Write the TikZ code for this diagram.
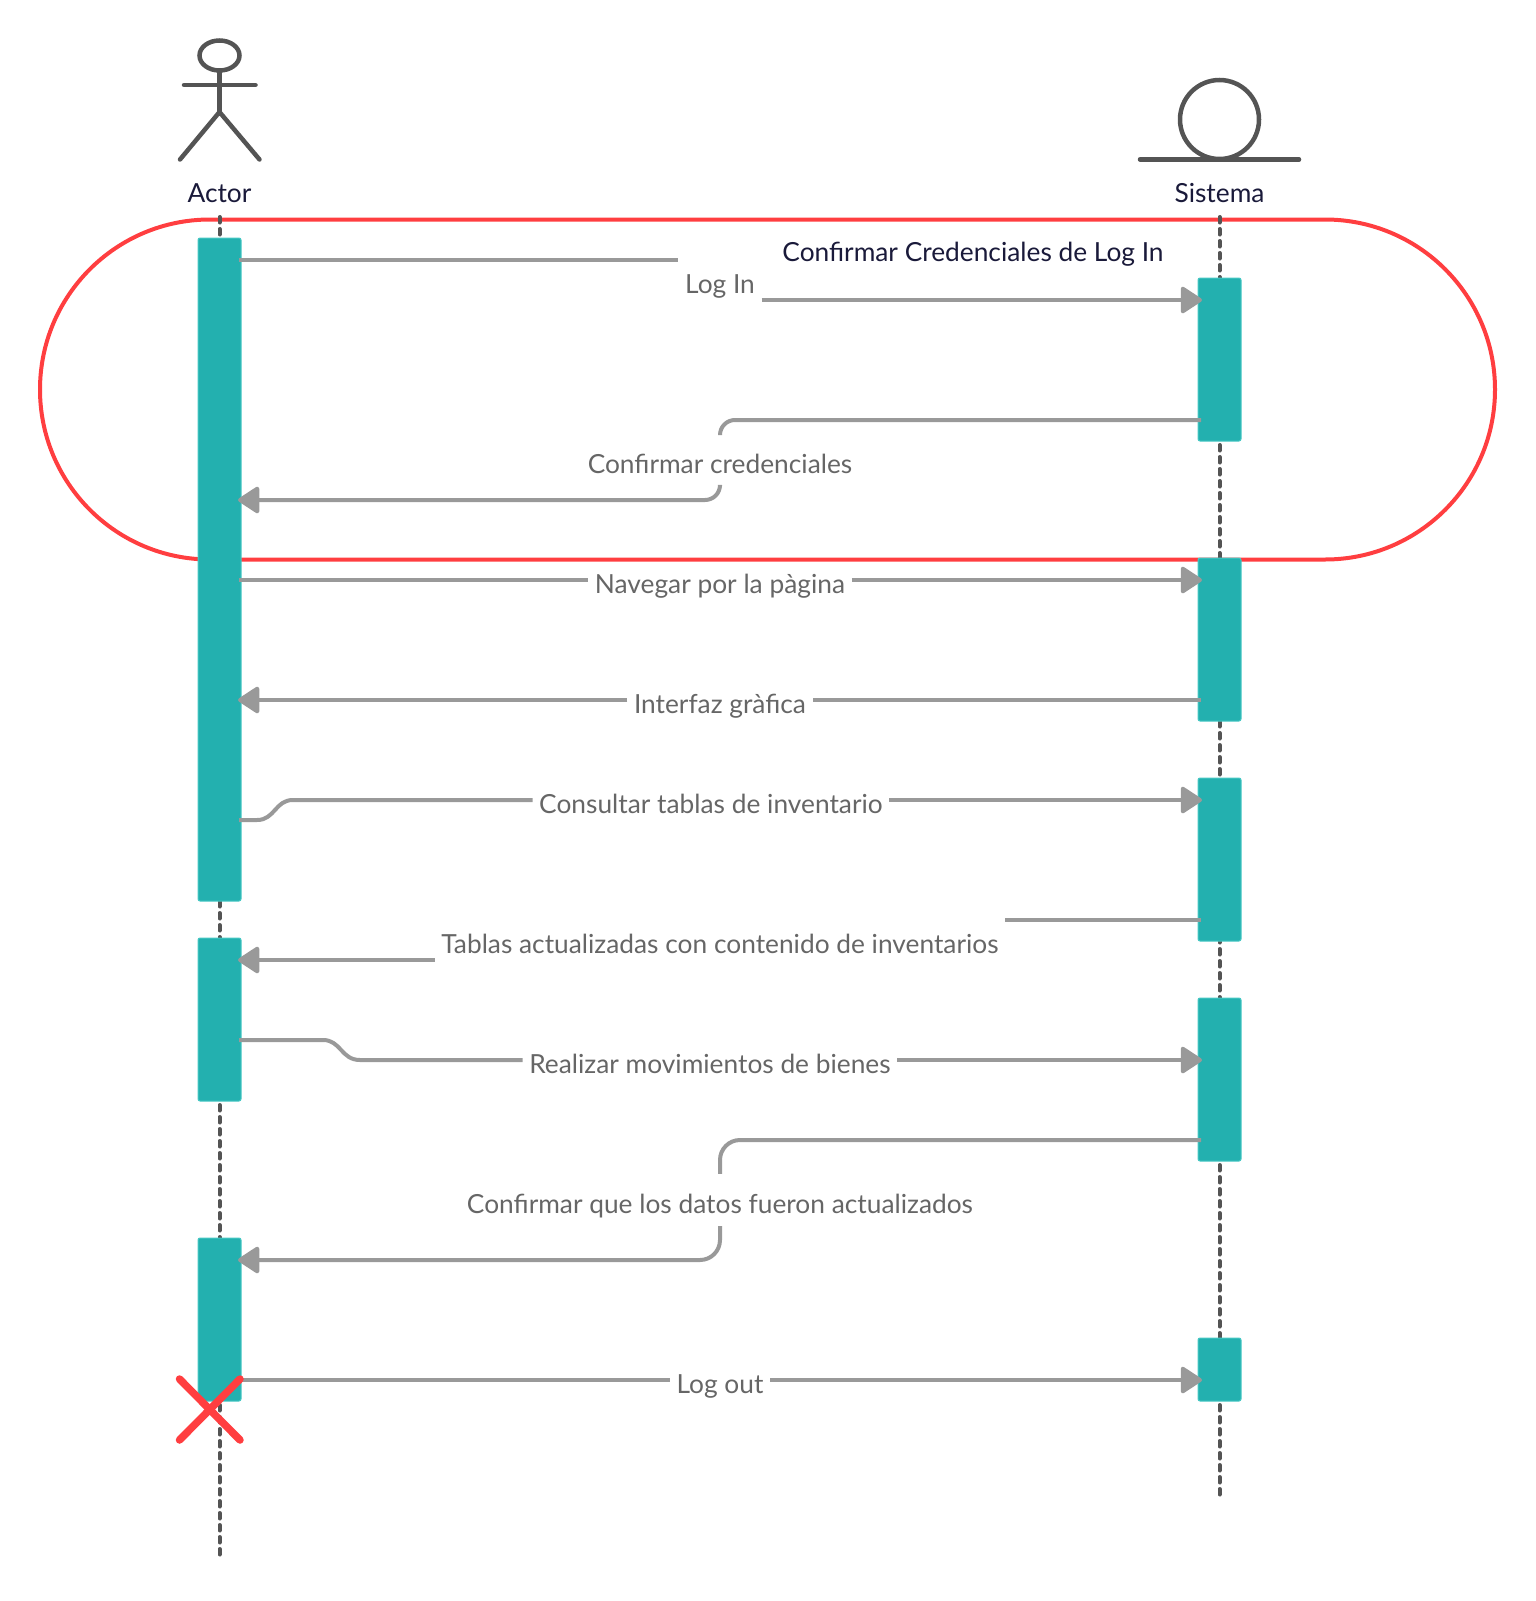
\documentclass[tikz,border=0pt]{standalone}
\usepackage{fontspec}
\setmainfont{Lato}
\usetikzlibrary{positioning}
\usetikzlibrary{arrows.meta}
\definecolor{teal}{RGB}{35,176,175}
\definecolor{tealedge}{RGB}{70,200,196}
\definecolor{red}{RGB}{255,62,64}
\definecolor{ink}{RGB}{84,84,84}
\definecolor{wire}{RGB}{153,153,153}
\definecolor{navy}{RGB}{26,26,58}
\definecolor{msgtext}{RGB}{102,102,102}

\tikzset{
  figline/.style={draw=ink, line width=4.5pt, line cap=round},
  lifeline/.style={draw=ink, line width=4pt, line cap=round, dash pattern=on 5.5pt off 6.5pt},
  actbox/.style={draw=tealedge, line width=1pt, fill=teal, rounded corners=2pt, minimum width=43pt, inner sep=0pt},
  headlbl/.style={text=navy, font=\fontsize{26.3}{32}\selectfont},
  msglbl/.style={text=msgtext, font=\fontsize{26.3}{32}\selectfont, inner xsep=6.5pt, inner ysep=0pt, text height=39pt, text depth=13pt},
  msgplain/.style={draw=wire, line width=4pt},
  msgarrow/.style={msgplain, -{Triangle[length=23pt,width=29pt,round]}},
}

\begin{document}
\begin{tikzpicture}[x=1pt,y=-1pt]
\useasboundingbox (0,0) rectangle (1536,1601);

\def\ActorX{219.5}
\def\SisX{1219.5}

%---------------------------------------
% Loop frame
%---------------------------------------
\draw[red, line width=4pt, rounded corners=170pt] (40,219.5) rectangle (1495,559.5);
\node[headlbl] (lblLoop) at (973,254) {Confirmar Credenciales de Log In};

%---------------------------------------
% Lifelines
%---------------------------------------
\node[headlbl] (lblActor) at (\ActorX,193) {Actor};
\node[headlbl] (lblSis) at (\SisX,193) {Sistema};

\coordinate (actorTop) at (\ActorX,217);
\coordinate (actorEnd) at (\ActorX,1555);
\coordinate (sisTop) at (\SisX,217);
\coordinate (sisEnd) at (\SisX,1495);
\draw[lifeline] (actorTop) -- (actorEnd);
\draw[lifeline] (sisTop) -- (sisEnd);

% Actor figure
\draw[figline] (\ActorX,55.5) ellipse [x radius=20, y radius=15];
\draw[figline] (\ActorX,71) -- (\ActorX,112);
\draw[figline] (184,85) -- (255.5,85);
\draw[figline] (180,159.5) -- (\ActorX,112) -- (259.5,159.5);

% Sistema figure
\draw[figline] (\SisX,119.5) circle [radius=39.5];
\draw[figline] (1140,159.5) -- (1299,159.5);

%---------------------------------------
% Activation boxes
%---------------------------------------
\node[actbox, minimum height=663pt] (actorA) at (\ActorX,569.5) {};
\node[actbox, minimum height=163pt] (actorB) at (\ActorX,1019.5) {};
\node[actbox, minimum height=163pt] (actorC) at (\ActorX,1319.5) {};

\node[actbox, minimum height=163pt] (sisA) at (\SisX,359.5) {};
\node[actbox, minimum height=163pt] (sisB) at (\SisX,639.5) {};
\node[actbox, minimum height=163pt] (sisC) at (\SisX,859.5) {};
\node[actbox, minimum height=163pt] (sisD) at (\SisX,1079.5) {};
\node[actbox, minimum height=63pt] (sisE) at (\SisX,1369.5) {};

%---------------------------------------
% Messages
%---------------------------------------
\node[msglbl] (lblLogIn) at (720,280) {Log In};
\node[msglbl] (lblCred) at (720,460) {Confirmar credenciales};
\node[msglbl] (lblNav) at (720,580) {Navegar por la pàgina};
\node[msglbl] (lblGui) at (720,700) {Interfaz gràfica};
\node[msglbl] (lblTab) at (711,800) {Consultar tablas de inventario};
\node[msglbl] (lblUpd) at (720,940) {Tablas actualizadas con contenido de inventarios};
\node[msglbl] (lblMov) at (710,1060) {Realizar movimientos de bienes};
\node[msglbl] (lblData) at (720,1200) {Confirmar que los datos fueron actualizados};
\node[msglbl] (lblOut) at (720,1380) {Log out};

% Log In
\coordinate (logA) at (239,260);
\coordinate (logB) at (1202,300);
\draw[msgplain] (logA) -- (lblLogIn.west |- logA);
\draw[msgarrow] (lblLogIn.east |- logB) -- (logB);

% Confirmar credenciales
\coordinate (credA) at (1201,420);
\coordinate (credB) at (238,500);
\draw[msgplain, rounded corners=15pt] (credA) -| (lblCred.north);
\draw[msgarrow, rounded corners=15pt] (lblCred.south) |- (credB);

% Navegar
\coordinate (navA) at (239,580);
\coordinate (navB) at (1202,580);
\draw[msgplain] (navA) -- (lblNav.west);
\draw[msgarrow] (lblNav.east) -- (navB);

% Interfaz
\coordinate (guiA) at (1201,700);
\coordinate (guiB) at (238,700);
\draw[msgplain] (guiA) -- (lblGui.east);
\draw[msgarrow] (lblGui.west) -- (guiB);

% Consultar
\coordinate (tabA) at (239,820);
\coordinate (tabB) at (1202,800);
\draw[msgplain] (tabA) -- (257,820) .. controls (275,820) and (275,800) .. (293,800) -- (lblTab.west);
\draw[msgarrow] (lblTab.east) -- (tabB);

% Tablas
\coordinate (updA) at (1201,920);
\coordinate (updB) at (238,960);
\draw[msgplain] (updA) -- (lblUpd.east |- updA);
\draw[msgarrow] (lblUpd.west |- updB) -- (updB);

% Realizar
\coordinate (movA) at (239,1040);
\coordinate (movB) at (1202,1060);
\draw[msgplain] (movA) -- (323,1040) .. controls (341,1040) and (341,1060) .. (360,1060) -- (lblMov.west);
\draw[msgarrow] (lblMov.east) -- (movB);

% Confirmar datos
\coordinate (dataA) at (1201,1140);
\coordinate (dataB) at (238,1260);
\draw[msgplain, rounded corners=20pt] (dataA) -| (lblData.north);
\draw[msgarrow, rounded corners=20pt] (lblData.south) |- (dataB);

% Log out
\coordinate (outA) at (239,1380);
\coordinate (outB) at (1202,1380);
\draw[msgplain] (outA) -- (lblOut.west);
\draw[msgarrow] (lblOut.east) -- (outB);

%---------------------------------------
% End mark
%---------------------------------------
\draw[red, line width=7.5pt, line cap=round] (179.5,1379) -- (240,1440);
\draw[red, line width=7.5pt, line cap=round] (179.5,1440) -- (240,1379);

\end{tikzpicture}
\end{document}
